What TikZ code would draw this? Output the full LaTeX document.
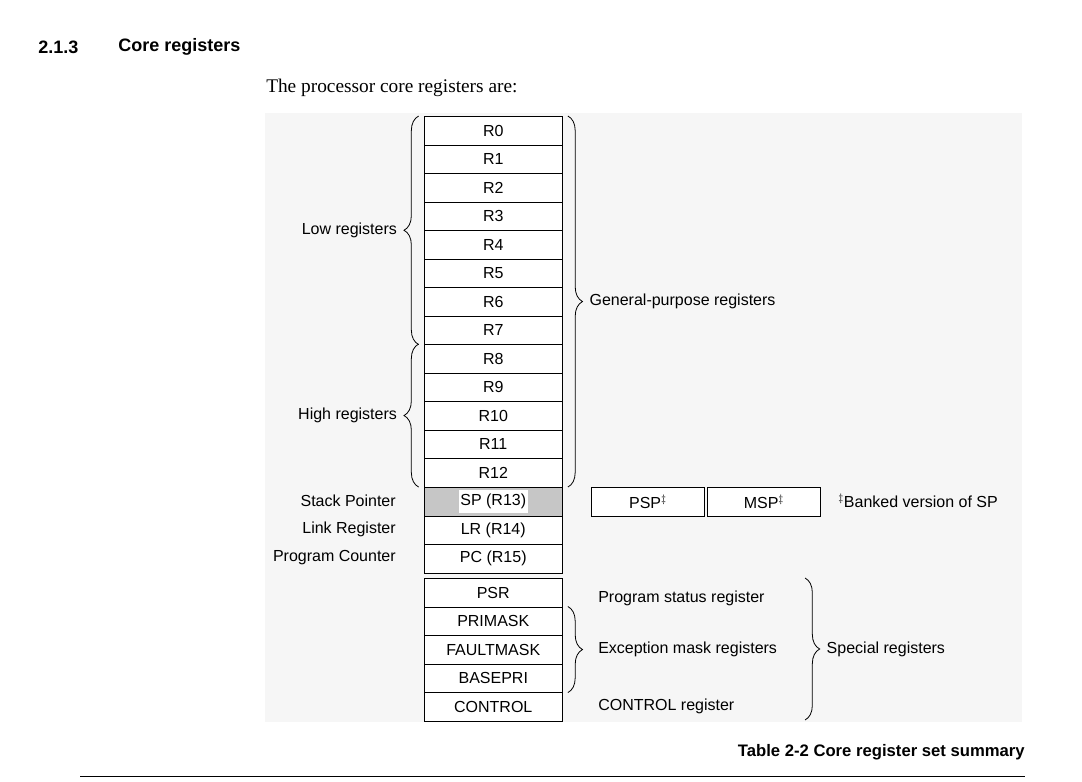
\documentclass[tikz,border=0pt]{standalone}
\usepackage{fontspec}
\setmainfont{Liberation Sans}
\newfontfamily\serifrm{Liberation Serif}
\usetikzlibrary{decorations.pathreplacing}

\tikzset{
	reg/.style = {draw, minimum width=103.5pt, minimum height=21.4pt, inner sep=0pt, anchor=north west},
	lbl/.style = {inner sep=0pt, font=\fontsize{12}{14}\selectfont},
	brc/.style = {draw, semithick, decorate, decoration={brace, amplitude=11pt}}
}

\begin{document}
\begin{tikzpicture}[x=0.75pt, y=-0.75pt, font=\fontsize{12}{14}\selectfont]
	\useasboundingbox (0,0) rectangle (1082,782);
	
	% Heading
	\node[lbl, anchor=west, font=\bfseries\fontsize{13.5}{16}\selectfont] (num) at (38,47) {2.1.3};
	\node[lbl, anchor=west, font=\bfseries\fontsize{13.5}{16}\selectfont] (title) at (118,47) {Core registers};
	\node[lbl, anchor=west, font=\serifrm\fontsize{14.5}{17}\selectfont] (intro) at (266,88) {The processor core registers are:};
	
	% Background
	\fill[gray!7] (265,113) rectangle (1022,722);
	
	% General-purpose registers
	\foreach \i in {0,...,12}
	\node[reg, fill=white] (r\i) at (424,{116+28.5*\i}) {R\i};
	
	% SP, LR, PC
	\node[reg, fill=gray!45] (sp) at (424,487) {\colorbox{white}{\kern-2pt SP (R13)\kern-2pt}};
	\node[reg, fill=white] (lr) at (424,515.5) {LR (R14)};
	\node[reg, fill=white] (pc) at (424,544) {PC (R15)};
	\node[reg, fill=white, minimum width=85pt] (psp) at (591,487) {PSP$^\ddagger$};
	\node[reg, fill=white, minimum width=85pt] (msp) at (707,487) {MSP$^\ddagger$};
	\node[lbl, anchor=west] (bank) at (838,501) {$^\ddagger$Banked version of SP};
	\node[lbl, anchor=east] (splbl) at (396,501) {Stack Pointer};
	\node[lbl, anchor=east] (lrlbl) at (396,529.5) {Link Register};
	\node[lbl, anchor=east] (pclbl) at (396,558) {Program Counter};
	
	% Special registers
	\node[reg, fill=white] (psr) at (424,578) {PSR};
	\node[reg, fill=white] (primask) at (424,606.5) {PRIMASK};
	\node[reg, fill=white] (faultmask) at (424,635) {FAULTMASK};
	\node[reg, fill=white] (basepri) at (424,663.5) {BASEPRI};
	\node[reg, fill=white] (control) at (424,692) {CONTROL};
	\node[lbl, anchor=west] (psrlbl) at (598,598) {Program status register};
	\node[lbl, anchor=west] (exclbl) at (598,649.5) {Exception mask registers};
	\node[lbl, anchor=west] (ctllbl) at (598,706) {CONTROL register};
	
	% Braces
	\draw[brc] ([xshift=-4pt]r7.south west) -- ([xshift=-4pt]r0.north west)
		node[lbl, midway, anchor=east, xshift=-16pt] (low) {Low registers};
	\draw[brc] ([xshift=-4pt]r12.south west) -- ([xshift=-4pt]r8.north west)
		node[lbl, midway, anchor=east, xshift=-16pt] (high) {High registers};
	\draw[brc] ([xshift=4pt]r0.north east) -- ([xshift=4pt]r12.south east)
		node[lbl, midway, anchor=west, xshift=16pt] (gpr) {General-purpose registers};
	\draw[brc] ([xshift=4pt]primask.north east) -- ([xshift=4pt]basepri.south east);
	\draw[brc] (805,578) -- (805,720)
		node[lbl, midway, anchor=west, xshift=16pt] (spec) {Special registers};
	
	% Caption
	\node[lbl, anchor=east, font=\bfseries\fontsize{12.5}{15}\selectfont] (cap) at (1025,752) {Table 2-2 Core register set summary};
	\draw (80,776) -- (1025,776);
\end{tikzpicture}
\end{document}
